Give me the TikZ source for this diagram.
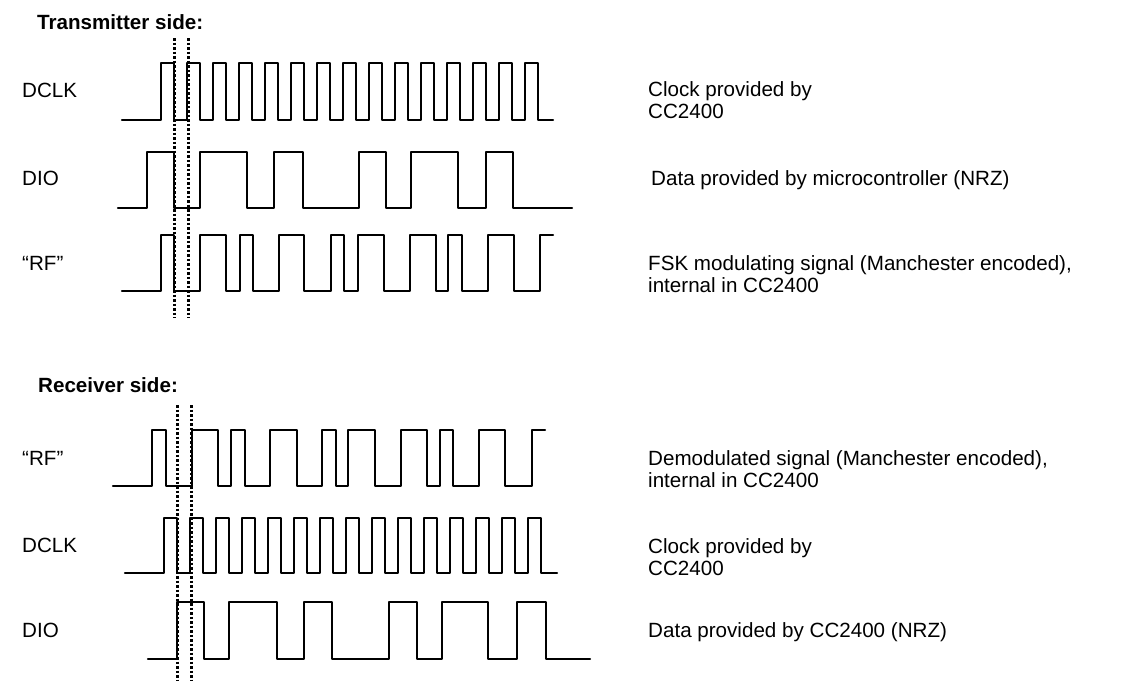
\documentclass[tikz,border=0pt]{standalone}
\usepackage{fontspec}
\setmainfont{Liberation Sans}
\begin{document}
\begin{tikzpicture}[x=1pt,y=-1pt,
  wave/.style={line width=2.4pt, line join=round, line cap=round},
  marker/.style={line width=3pt, dash pattern=on 2.5pt off 2pt},
  lbl/.style={anchor=base west, inner sep=0pt, font=\fontsize{20.6}{22}\selectfont},
  ttl/.style={anchor=base west, inner sep=0pt, font=\fontsize{20.6}{22}\selectfont\bfseries}]
\useasboundingbox (0,0) rectangle (1130,681);

% ---------------- Transmitter side ----------------
\node[ttl] (ttx) at (37,29) {Transmitter side:};
\node[lbl] (ldclk1) at (22,97) {DCLK};
\node[lbl] (ldio1) at (22,185) {DIO};
\node[lbl] (lrf1) at (22,270) {“RF”};

% DCLK (transmitter)
\draw[wave] (122,120) foreach \k in {0,...,14} {
  -- ({161+26*\k},120) -- ({161+26*\k},63) -- ({174+26*\k},63) -- ({174+26*\k},120) } -- (553,120);

% DIO (transmitter)
\draw[wave] (118,208) -| (147,152) -| (174,208) -| (200,152) -| (247,208) -| (274,152)
  -| (303,208) -| (359,152) -| (386,208) -| (411,152) -| (458,208) -| (486,152)
  -| (513,208) -- (572,208);

% RF (transmitter)
\draw[wave] (122,291) -| (161,235) -| (174,291) -| (200,235) -| (226,291) -| (240,235)
  -| (253,291) -| (279,235) -| (304,291) -| (331,235) -| (344,291) -| (358,235)
  -| (384,291) -| (410,235) -| (436,291) -| (448,235) -| (462,291) -| (488,235)
  -| (514,291) -| (540,235) -- (553,235);

% markers
\draw[marker] (174,38) -- (174,318);
\draw[marker] (188,38) -- (188,318);

\node[lbl] (d1a) at (648,96) {Clock provided by};
\node[lbl] (d1b) at (648,118) {CC2400};
\node[lbl] (d2) at (651,185) {Data provided by microcontroller (NRZ)};
\node[lbl] (d3a) at (648,270) {FSK modulating signal (Manchester encoded),};
\node[lbl] (d3b) at (648,292) {internal in CC2400};

% ---------------- Receiver side ----------------
\node[ttl] (trx) at (38,392) {Receiver side:};
\node[lbl] (lrf2) at (22,465) {“RF”};
\node[lbl] (ldclk2) at (22,552) {DCLK};
\node[lbl] (ldio2) at (22,637) {DIO};

% RF (receiver)
\draw[wave] (113,486) -| (152,430) -| (166,486) -| (192,430) -| (218,486) -| (231,430)
  -| (245,486) -| (270,430) -| (297,486) -| (322,430) -| (336,486) -| (348,430)
  -| (375,486) -| (401,430) -| (427,486) -| (440,430) -| (453,486) -| (479,430)
  -| (505,486) -| (532,430) -- (545,430);

% DCLK (receiver)
\draw[wave] (125,573) foreach \k in {0,...,14} {
  -- ({164+26*\k},573) -- ({164+26*\k},518) -- ({177+26*\k},518) -- ({177+26*\k},573) } -- (557,573);

% DIO (receiver)
\draw[wave] (148,659) -| (177,602) -| (204,659) -| (229,602) -| (277,659) -| (304,602)
  -| (332,659) -| (389,602) -| (417,659) -| (442,602) -| (488,659) -| (517,602)
  -| (546,659) -- (590,659);

% markers
\draw[marker] (177,405) -- (177,681);
\draw[marker] (191,405) -- (191,681);

\node[lbl] (d4a) at (648,465) {Demodulated signal (Manchester encoded),};
\node[lbl] (d4b) at (648,487) {internal in CC2400};
\node[lbl] (d5a) at (648,553) {Clock provided by};
\node[lbl] (d5b) at (648,575) {CC2400};
\node[lbl] (d6) at (648,637) {Data provided by CC2400 (NRZ)};
\end{tikzpicture}
\end{document}
